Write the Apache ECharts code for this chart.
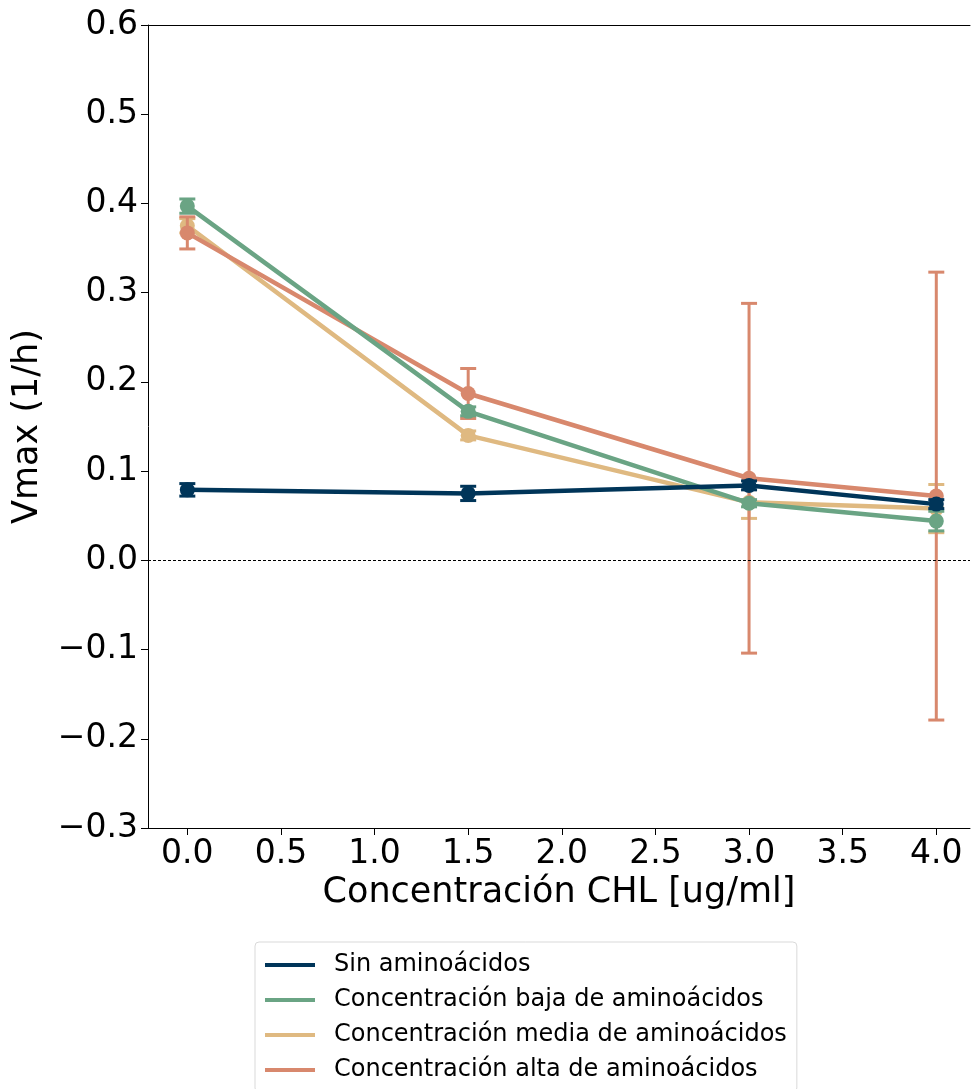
<!DOCTYPE html>
<html>
<head>
<meta charset="utf-8">
<script src="https://cdn.jsdelivr.net/npm/echarts@6/dist/echarts.min.js"></script>
<style>
  html, body { margin: 0; padding: 0; background: #fff; }
  #chart { width: 971px; height: 1089px; }
</style>
</head>
<body>
<div id="chart"></div>
<script>
// concentraciones de CHL (eje x)
var conc = [0.0, 1.5, 3.0, 4.0];
var xTicks = [0.0, 0.5, 1.0, 1.5, 2.0, 2.5, 3.0, 3.5, 4.0];

var names = [
  "Sin aminoácidos",
  "Concentración baja de aminoácidos",
  "Concentración media de aminoácidos",
  "Concentración alta de aminoácidos"
];

// Vmax medio y error de cada grupo
var sinVal = [0.079, 0.075, 0.084, 0.063];
var sinErr = [0.007, 0.008, 0.005, 0.005];
var bajaVal = [0.397, 0.167, 0.064, 0.044];
var bajaErr = [0.008, 0.005, 0.004, 0.011];
var mediaVal = [0.375, 0.140, 0.065, 0.058];
var mediaErr = [0.008, 0.005, 0.018, 0.027];
var altaVal = [0.367, 0.187, 0.092, 0.072];
var altaErr = [0.018, 0.028, 0.196, 0.251];

var colors = ["#003559", "#6aa484", "#dfb981", "#d8886d"];
var zs = [8, 6, 2, 4];

(function () {
  var vals = [sinVal, bajaVal, mediaVal, altaVal];
  var errs = [sinErr, bajaErr, mediaErr, altaErr];
  var chart = echarts.init(document.getElementById("chart"));
  var fmt = function (v) {
    var s = Math.abs(v).toFixed(1);
    return v < -1e-9 ? "\u2212" + s : s;
  };

  var series = [];
  vals.forEach(function (v, i) {
    var errData = conc.map(function (c, k) { return [c, v[k] - errs[i][k], v[k] + errs[i][k]]; });
    series.push({
      name: names[i],
      type: "custom",
      z: zs[i],
      silent: true,
      data: errData,
      encode: { x: 0, y: [1, 2] },
      renderItem: function (params, api) {
        var lo = api.coord([api.value(0), api.value(1)]);
        var hi = api.coord([api.value(0), api.value(2)]);
        var w = 8;
        var st = { stroke: colors[i], lineWidth: 3 };
        return {
          type: "group",
          children: [
            { type: "line", shape: { x1: lo[0], y1: lo[1], x2: hi[0], y2: hi[1] }, style: st },
            { type: "line", shape: { x1: lo[0] - w, y1: lo[1], x2: lo[0] + w, y2: lo[1] }, style: st },
            { type: "line", shape: { x1: hi[0] - w, y1: hi[1], x2: hi[0] + w, y2: hi[1] }, style: st }
          ]
        };
      }
    });
    series.push({
      name: names[i],
      type: "line",
      z: zs[i] + 1,
      data: conc.map(function (c, k) { return [c, v[k]]; }),
      symbol: "circle",
      symbolSize: 15,
      lineStyle: { color: colors[i], width: 4.5 },
      itemStyle: { color: colors[i] },
      emphasis: { disabled: true },
      markLine: i === 0 ? {
        silent: true,
        symbol: "none",
        label: { show: false },
        lineStyle: { color: "#000", type: [3, 2], width: 1 },
        data: [{ yAxis: 0 }]
      } : undefined
    });
  });

  var axisFont = { fontFamily: "DejaVu Sans", fontSize: 33, color: "#000" };

  var option = {
    animation: false,
    color: colors,
    grid: { left: 148, right: 1, top: 25, bottom: 261 },
    xAxis: [{
      type: "value",
      min: -0.21,
      max: 4.18,
      name: "Concentración CHL [ug/ml]",
      nameLocation: "middle",
      nameGap: 47,
      nameTextStyle: { fontFamily: "DejaVu Sans", fontSize: 35, color: "#000" },
      splitLine: { show: false },
      axisLine: { onZero: false, lineStyle: { color: "#000", width: 1 } },
      axisTick: { show: true, length: 7, lineStyle: { color: "#000" }, customValues: xTicks },
      axisLabel: Object.assign({ customValues: xTicks, formatter: fmt, margin: 10 }, axisFont)
    }, {
      // borde superior
      type: "value",
      position: "top",
      min: -0.21,
      max: 4.18,
      splitLine: { show: false },
      axisLine: { show: true, onZero: false, lineStyle: { color: "#000", width: 1 } },
      axisTick: { show: false },
      axisLabel: { show: false }
    }],
    yAxis: {
      type: "value",
      min: -0.3,
      max: 0.6,
      interval: 0.1,
      name: "Vmax (1/h)",
      nameLocation: "middle",
      nameGap: 103,
      nameTextStyle: { fontFamily: "DejaVu Sans", fontSize: 35, color: "#000" },
      splitLine: { show: false },
      axisLine: { show: true, onZero: false, lineStyle: { color: "#000", width: 1 } },
      axisTick: { show: true, length: 7, lineStyle: { color: "#000" } },
      axisLabel: Object.assign({ formatter: fmt, margin: 10 }, axisFont)
    },
    legend: {
      orient: "vertical",
      left: 255,
      top: 942,
      height: 200,
      data: names.map(function (n) { return { name: n, icon: "rect" }; }),
      itemWidth: 50,
      itemHeight: 4,
      itemGap: 11,
      padding: [11, 10, 10, 10],
      borderColor: "#d9d9d9",
      borderWidth: 1,
      borderRadius: 4,
      textStyle: { fontFamily: "DejaVu Sans", fontSize: 24, color: "#000", padding: [0, 0, 0, 14] }
    },
    series: series
  };
  chart.setOption(option);
})();
</script>
</body>
</html>
